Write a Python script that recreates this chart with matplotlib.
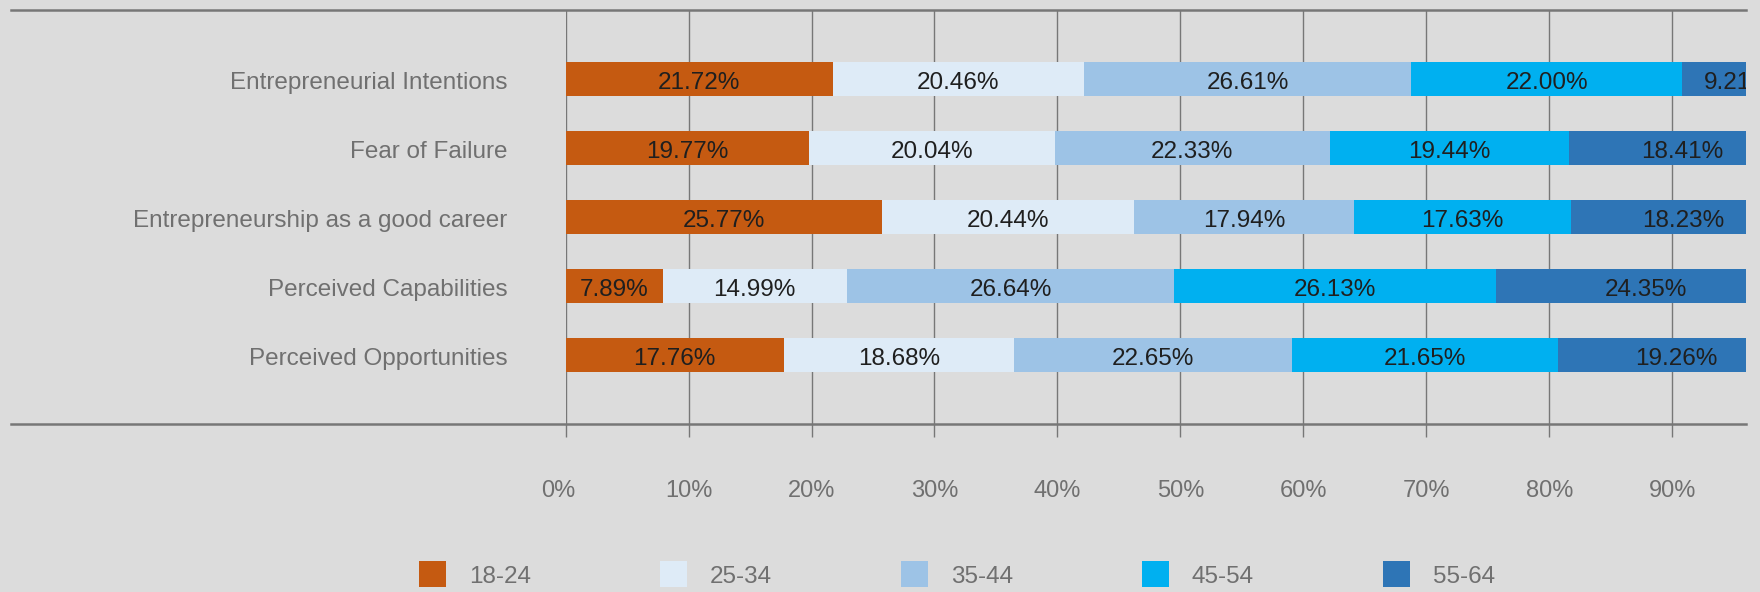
import matplotlib
matplotlib.use("Agg")
import matplotlib.pyplot as plt
import matplotlib.transforms as mtransforms
from matplotlib.patches import Rectangle
from matplotlib.lines import Line2D

categories = ["Entrepreneurial Intentions", "Fear of Failure",
              "Entrepreneurship as a good career", "Perceived Capabilities",
              "Perceived Opportunities"]
series_names = ["18-24", "25-34", "35-44", "45-54", "55-64"]
s18_24 = [21.72, 19.77, 25.77, 7.89, 17.76]
s25_34 = [20.46, 20.04, 20.44, 14.99, 18.68]
s35_44 = [26.61, 22.33, 17.94, 26.64, 22.65]
s45_54 = [22.00, 19.44, 17.63, 26.13, 21.65]
s55_64 = [9.21, 18.41, 18.23, 24.35, 19.26]
series_values = [s18_24, s25_34, s35_44, s45_54, s55_64]
colors = ["#C55A11", "#DEEBF7", "#9DC3E6", "#00B0F0", "#2E75B6"]
xticks = [0, 10, 20, 30, 40, 50, 60, 70, 80, 90]
xtick_labels = ["0%", "10%", "20%", "30%", "40%", "50%", "60%", "70%", "80%", "90%"]

W, H = 1760, 592
BG = "#dcdcdc"
GRID = "#777777"
FONT = "Liberation Sans"

fig = plt.figure(figsize=(W / 100, H / 100), dpi=100, facecolor=BG)
ax = fig.add_axes([565.6 / W, 1 - 424 / H, (1746 - 565.6) / W, (424 - 9.5) / H])
ax.set_facecolor(BG)

down = mtransforms.ScaledTranslation(0, -7.4 / 72, fig.dpi_scale_trans)

ypos = list(range(len(categories)))
left = [0.0] * len(categories)
for name, vals, col in zip(series_names, series_values, colors):
    ax.barh(ypos, vals, left=left, height=0.49, color=col, edgecolor="none", zorder=3)
    for i, v in enumerate(vals):
        ax.text(left[i] + v / 2, ypos[i], f"{v:.2f}%", ha="center", va="baseline",
                fontsize=17.5, color="#1f1f1f", family=FONT, zorder=4,
                clip_on=True, transform=ax.transData + down)
    left = [l + v for l, v in zip(left, vals)]

ax.set_xlim(0, 96)
ax.set_ylim(5, -1)
ax.set_xticks(xticks)
ax.set_xticklabels(xtick_labels, family=FONT, fontsize=17, color="#707070")
ax.set_yticks(ypos)
ax.set_yticklabels(categories, family=FONT, fontsize=17.5, color="#707070")
ax.tick_params(axis="x", length=9.4, width=1.0, color=GRID, pad=31)
ax.tick_params(axis="y", length=0, pad=42)
ax.grid(axis="x", color=GRID, linewidth=1.0, zorder=1)
ax.set_axisbelow(True)
for sp in ax.spines.values():
    sp.set_visible(False)

for lab in ax.get_yticklabels():
    lab.set_va("baseline")
    lab.set_transform(lab.get_transform() + down)
first = ax.get_xticklabels()[0]
first.set_transform(first.get_transform()
                    + mtransforms.ScaledTranslation(-7 / 100, 0, fig.dpi_scale_trans))

# horizontal rules spanning figure
for y in (9.5, 424):
    fig.add_artist(Line2D([11 / W, 1746 / W], [1 - y / H, 1 - y / H],
                          color=GRID, linewidth=1.8, transform=fig.transFigure, zorder=5))

# legend
lx0 = 419
step = 241
for k, (name, col) in enumerate(zip(series_names, colors)):
    x = lx0 + k * step
    fig.add_artist(Rectangle((x / W, 1 - 587 / H), 27 / W, 26 / H, facecolor=col,
                             edgecolor="none", transform=fig.transFigure))
    fig.text((x + 50) / W, 1 - 577 / H, name, ha="left", va="center",
             fontsize=17.5, color="#707070", family=FONT)

fig.savefig("out.png", dpi=100, facecolor=BG)
